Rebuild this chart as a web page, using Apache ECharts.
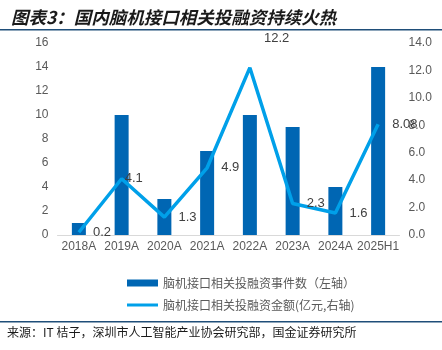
<!DOCTYPE html>
<html>
<head>
<meta charset="utf-8">
<script src="https://cdn.jsdelivr.net/npm/echarts@6/dist/echarts.min.js"></script>
<style>html,body{margin:0;padding:0;background:#fff}#c{width:442px;height:350px}</style>
</head>
<body>
<div id="c"></div>
<script>
var categories = ['2018A','2019A','2020A','2021A','2022A','2023A','2024A','2025H1'];
var eventCounts = [1, 10, 3, 7, 10, 9, 4, 14];
var amounts = [0.2, 4.1, 1.3, 4.9, 12.2, 2.3, 1.6, 8.08];
var barName = '脑机接口相关投融资事件数（左轴）';
var lineName = '脑机接口相关投融资金额(亿元,右轴)';
var titleText = '图表3：国内脑机接口相关投融资持续火热';
var sourceText = '来源：IT 桔子，深圳市人工智能产业协会研究部，国金证券研究所';

var FONT = '"Liberation Sans", Arial, "Noto Sans CJK SC", sans-serif';
var lineData = amounts.map(function (v, i) {
  var d = { value: v };
  if (i === 4) d.label = { offset: [0, -29] };
  if (i === 1) d.label = { distance: 3 };
  return d;
});

var chart = echarts.init(document.getElementById('c'));
chart.setOption({
  animation: false,
  textStyle: { fontFamily: FONT },
  title: {
    text: titleText, left: 6, top: 4,
    textStyle: { fontSize: 17.5, fontWeight: 'bold', fontStyle: 'italic', color: '#1a1a1a', fontFamily: '"Noto Sans CJK SC", sans-serif' }
  },
  graphic: [
    { type: 'rect', shape: { x: 0, y: 29, width: 442, height: 1.5 }, style: { fill: '#1f4e79' } },
    { type: 'rect', shape: { x: 0, y: 321, width: 442, height: 1.5 }, style: { fill: '#1f4e79' } },
    { type: 'text', left: 7, top: 326, style: { text: sourceText, fontSize: 12, fill: '#1a1a1a', fontFamily: '"Noto Sans CJK SC", sans-serif' } }
  ],
  grid: { left: 57.5, right: 42.5, top: 43, bottom: 115, containLabel: false },
  legend: [
    { data: [barName], left: 122, top: 272, icon: 'rect', itemWidth: 31, itemHeight: 7, itemGap: 6,
      textStyle: { fontSize: 12, color: '#595959', fontFamily: '"Noto Sans CJK SC", sans-serif' } },
    { data: [lineName], left: 122, top: 294, icon: 'rect', itemWidth: 31, itemHeight: 3, itemGap: 6,
      textStyle: { fontSize: 12, color: '#595959', fontFamily: '"Noto Sans CJK SC", sans-serif' } }
  ],
  xAxis: {
    type: 'category', data: categories,
    axisLine: { lineStyle: { color: '#d9d9d9' } },
    axisTick: { show: false },
    axisLabel: { color: '#595959', fontSize: 12, margin: 6, interval: 0 }
  },
  yAxis: [
    { type: 'value', min: 0, max: 16, interval: 2,
      axisLabel: { color: '#595959', fontSize: 12, margin: 9 },
      splitLine: { show: false }, axisLine: { show: false }, axisTick: { show: false } },
    { type: 'value', min: 0, max: 14, interval: 2,
      axisLabel: { color: '#595959', fontSize: 12, margin: 9, formatter: function (v) { return v.toFixed(1); } },
      splitLine: { show: false }, axisLine: { show: false }, axisTick: { show: false } }
  ],
  series: [
    { name: barName, type: 'bar', data: eventCounts, yAxisIndex: 0, barWidth: 14,
      itemStyle: { color: '#0066b3' } },
    { name: lineName, type: 'line', data: lineData, yAxisIndex: 1,
      symbol: 'circle', symbolSize: 0.1, showSymbol: true,
      lineStyle: { color: '#00a0e9', width: 3.5 }, itemStyle: { color: '#00a0e9' },
      label: { show: true, position: 'right', distance: 14, color: '#404040', fontSize: 13 } }
  ]
});
</script>
</body>
</html>
